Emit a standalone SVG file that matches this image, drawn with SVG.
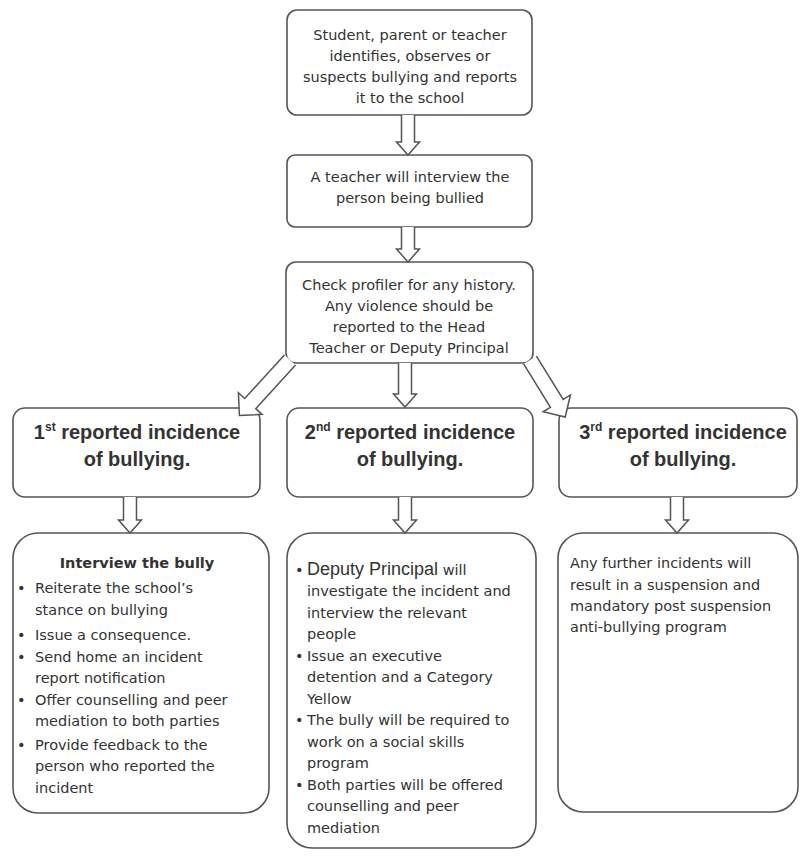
<svg xmlns="http://www.w3.org/2000/svg" width="800" height="856" viewBox="0 0 800 856">
<style>
.box{fill:#fff;stroke:#555;stroke-width:1.6}
.arr{fill:#fff;stroke:#555;stroke-width:1.5;stroke-linejoin:miter}
.t{font-family:"DejaVu Sans",sans-serif;font-size:14.5px;fill:#333}
.c{text-anchor:middle}
.h{font-family:"Liberation Sans",Arial,sans-serif;font-size:20px;font-weight:bold;fill:#333;text-anchor:middle}
.b{font-weight:bold}
</style>
<rect width="800" height="856" fill="#fff"/>
<g id="node-report">
<rect class="box" x="287" y="10" width="245" height="105" rx="10"/>
<text class="t c" x="410" y="40">Student, parent or teacher</text>
<text class="t c" x="410" y="61">identifies, observes or</text>
<text class="t c" x="410" y="82">suspects bullying and reports</text>
<text class="t c" x="410" y="103">it to the school</text>
</g>
<g id="node-interview">
<rect class="box" x="287" y="155" width="245" height="72" rx="8"/>
<text class="t c" x="410" y="182">A teacher will interview the</text>
<text class="t c" x="410" y="203">person being bullied</text>
</g>
<g id="node-profiler">
<rect class="box" x="286" y="262" width="247" height="101" rx="10"/>
<text class="t c" x="409" y="290">Check profiler for any history.</text>
<text class="t c" x="409" y="311">Any violence should be</text>
<text class="t c" x="409" y="332">reported to the Head</text>
<text class="t c" x="409" y="353">Teacher or Deputy Principal</text>
</g>
<g id="node-first">
<rect class="box" x="13" y="408" width="247" height="89" rx="12"/>
<text class="h" x="137" y="439">1<tspan font-size="12" dy="-8">st</tspan><tspan dy="8"> reported incidence</tspan></text>
<text class="h" x="137" y="466">of bullying.</text>
</g>
<g id="node-second">
<rect class="box" x="287" y="408" width="246" height="89" rx="12"/>
<text class="h" x="410" y="439">2<tspan font-size="12" dy="-8">nd</tspan><tspan dy="8"> reported incidence</tspan></text>
<text class="h" x="410" y="466">of bullying.</text>
</g>
<g id="node-third">
<rect class="box" x="559" y="408" width="238" height="89" rx="12"/>
<text class="h" x="683" y="439">3<tspan font-size="12" dy="-8">rd</tspan><tspan dy="8"> reported incidence</tspan></text>
<text class="h" x="683" y="466">of bullying.</text>
</g>
<g id="node-first-actions">
<rect class="box" x="13" y="533" width="256" height="280" rx="25"/>
<text class="t c b" x="137" y="568" font-size="14">Interview the bully</text>
<text class="t" x="17" y="593">•</text><text class="t" x="35" y="593">Reiterate the school’s</text>
<text class="t" x="35" y="615">stance on bullying</text>
<text class="t" x="17" y="640">•</text><text class="t" x="35" y="640">Issue a consequence.</text>
<text class="t" x="17" y="662">•</text><text class="t" x="35" y="662">Send home an incident</text>
<text class="t" x="35" y="683">report notification</text>
<text class="t" x="17" y="705">•</text><text class="t" x="35" y="705">Offer counselling and peer</text>
<text class="t" x="35" y="726">mediation to both parties</text>
<text class="t" x="17" y="750">•</text><text class="t" x="35" y="750">Provide feedback to the</text>
<text class="t" x="35" y="771">person who reported the</text>
<text class="t" x="35" y="793">incident</text>
</g>
<g id="node-second-actions">
<rect class="box" x="287" y="533" width="249" height="315" rx="25"/>
<text class="t" x="295" y="575">•</text><text class="t" x="307" y="575"><tspan font-family="Liberation Sans, Arial, sans-serif" font-size="18">Deputy Principal</tspan>  will</text>
<text class="t" x="307" y="596">investigate the incident and</text>
<text class="t" x="307" y="618">interview the relevant</text>
<text class="t" x="307" y="639">people</text>
<text class="t" x="295" y="661">•</text><text class="t" x="307" y="661">Issue an executive</text>
<text class="t" x="307" y="682">detention and a Category</text>
<text class="t" x="307" y="704">Yellow</text>
<text class="t" x="295" y="725">•</text><text class="t" x="307" y="725">The bully will be required to</text>
<text class="t" x="307" y="747">work on a social skills</text>
<text class="t" x="307" y="768">program</text>
<text class="t" x="295" y="790">•</text><text class="t" x="307" y="790">Both parties will be offered</text>
<text class="t" x="307" y="811">counselling and peer</text>
<text class="t" x="307" y="833">mediation</text>
</g>
<g id="node-third-actions">
<rect class="box" x="558" y="533" width="240" height="279" rx="25"/>
<text class="t" x="570" y="568">Any further incidents will</text>
<text class="t" x="570" y="590">result in a suspension and</text>
<text class="t" x="570" y="611">mandatory post suspension</text>
<text class="t" x="570" y="632">anti-bullying program</text>
</g>
<g id="connectors">
<path class="arr" transform="translate(408,115) rotate(90)" d="M0,-6.5 H27 V-11.5 L40,0 L27,11.5 V6.5 H0"/>
<path class="arr" transform="translate(408,227) rotate(90)" d="M0,-6.5 H22 V-11.5 L35,0 L22,11.5 V6.5 H0"/>
<path class="arr" transform="translate(405,363) rotate(90)" d="M0,-6.5 H31 V-11.5 L44,0 L31,11.5 V6.5 H0"/>
<path class="arr" transform="translate(290,360) rotate(132.4)" d="M0,-7.5 H59 V-16 L75,0 L59,16 V7.5 H0"/>
<path class="arr" transform="translate(530,360) rotate(58.3)" d="M0,-7.5 H51 V-16 L67,0 L51,16 V7.5 H0"/>
<path class="arr" transform="translate(130,497) rotate(90)" d="M0,-6.5 H23 V-11.5 L36,0 L23,11.5 V6.5 H0"/>
<path class="arr" transform="translate(405,497) rotate(90)" d="M0,-6.5 H23 V-11.5 L36,0 L23,11.5 V6.5 H0"/>
<path class="arr" transform="translate(677,497) rotate(90)" d="M0,-6.5 H23 V-11.5 L36,0 L23,11.5 V6.5 H0"/>
</g>
</svg>
